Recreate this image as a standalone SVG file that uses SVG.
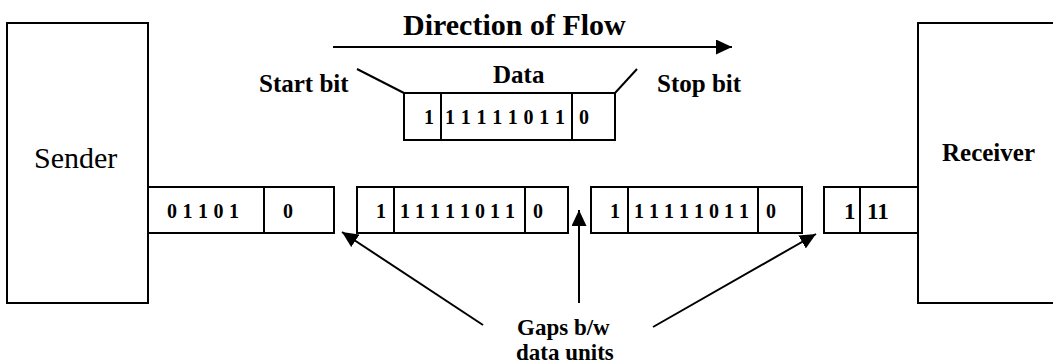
<svg xmlns="http://www.w3.org/2000/svg" width="1053" height="363" viewBox="0 0 1053 363">
  <defs>
    <marker id="head" markerUnits="userSpaceOnUse" markerWidth="17" markerHeight="15" refX="16" refY="7.5" orient="auto">
      <path d="M0,0 L16,7.5 L0,15 Z" fill="#000"/>
    </marker>
  </defs>
  <style>
    .box { fill: #fff; stroke: #000; stroke-width: 2; }
    .cell { fill: none; stroke: #000; stroke-width: 2; }
    .wire { fill: none; stroke: #000; stroke-width: 2; }
    text { font-family: "Liberation Serif", "Times New Roman", serif; fill: #000; }
    .lbl { font-weight: bold; }
    .plain { font-weight: normal; font-size: 30px; }
    .bit { font-weight: bold; font-size: 20px; }
  </style>

  <rect width="1053" height="363" fill="#fff"/>

  <!-- end stations -->
  <g id="sender">
    <rect class="box" x="7" y="23" width="141" height="280"/>
    <text class="plain" x="34" y="168">Sender</text>
  </g>
  <g id="receiver">
    <rect class="box" x="918" y="23" width="150" height="280"/>
    <text class="lbl" x="942" y="161" font-size="25">Receiver</text>
  </g>

  <!-- heading -->
  <g id="direction">
    <text class="lbl" x="403" y="35" font-size="30">Direction of Flow</text>
  </g>

  <!-- single frame detail -->
  <g id="frame-detail">
    <text class="lbl" x="259" y="92" font-size="25">Start bit</text>
    <text class="lbl" x="493" y="83" font-size="25">Data</text>
    <text class="lbl" x="657" y="92" font-size="25">Stop bit</text>
    <rect class="cell" x="404" y="93" width="211" height="47"/>
    <line class="cell" x1="441" y1="93" x2="441" y2="140"/>
    <line class="cell" x1="572" y1="93" x2="572" y2="140"/>
    <text class="bit" x="424" y="124">1</text>
    <text class="bit" x="445" y="124" textLength="120" lengthAdjust="spacing">1 1 1 1 1 0 1 1</text>
    <text class="bit" x="579" y="124">0</text>
  </g>

  <!-- frames on the line -->
  <g id="frame-1">
    <rect class="cell" x="148" y="187" width="186" height="46"/>
    <line class="cell" x1="264" y1="187" x2="264" y2="233"/>
    <text class="bit" x="167" y="218" textLength="72" lengthAdjust="spacing">0 1 1 0 1</text>
    <text class="bit" x="283" y="218">0</text>
  </g>
  <g id="frame-2">
    <rect class="cell" x="357" y="187" width="211" height="46"/>
    <line class="cell" x1="394" y1="187" x2="394" y2="233"/>
    <line class="cell" x1="525" y1="187" x2="525" y2="233"/>
    <text class="bit" x="376" y="218">1</text>
    <text class="bit" x="400" y="218" textLength="115" lengthAdjust="spacing">1 1 1 1 1 0 1 1</text>
    <text class="bit" x="533" y="218">0</text>
  </g>
  <g id="frame-3">
    <rect class="cell" x="591" y="187" width="211" height="46"/>
    <line class="cell" x1="628" y1="187" x2="628" y2="233"/>
    <line class="cell" x1="758" y1="187" x2="758" y2="233"/>
    <text class="bit" x="610" y="218">1</text>
    <text class="bit" x="634" y="218" textLength="115" lengthAdjust="spacing">1 1 1 1 1 0 1 1</text>
    <text class="bit" x="766" y="218">0</text>
  </g>
  <g id="frame-4">
    <rect class="cell" x="824" y="187" width="94" height="46"/>
    <line class="cell" x1="860" y1="187" x2="860" y2="233"/>
    <text class="lbl" x="844" y="219" font-size="23">1</text>
    <text class="lbl" x="867" y="219" font-size="23">11</text>
  </g>

  <g id="gap-label">
    <text class="lbl" x="517" y="335" font-size="23">Gaps b/w</text>
    <text class="lbl" x="516" y="360" font-size="23">data units</text>
  </g>

  <!-- connectors -->
  <g id="connectors">
    <line class="wire" x1="333" y1="47" x2="732" y2="47" marker-end="url(#head)"/>
    <line class="wire" x1="357" y1="69" x2="404" y2="93"/>
    <line class="wire" x1="615" y1="93" x2="637" y2="69"/>
    <line class="wire" x1="483" y1="325" x2="342" y2="232" marker-end="url(#head)"/>
    <line class="wire" x1="579" y1="303" x2="579" y2="210" marker-end="url(#head)"/>
    <line class="wire" x1="653" y1="327" x2="816" y2="234" marker-end="url(#head)"/>
  </g>
</svg>
